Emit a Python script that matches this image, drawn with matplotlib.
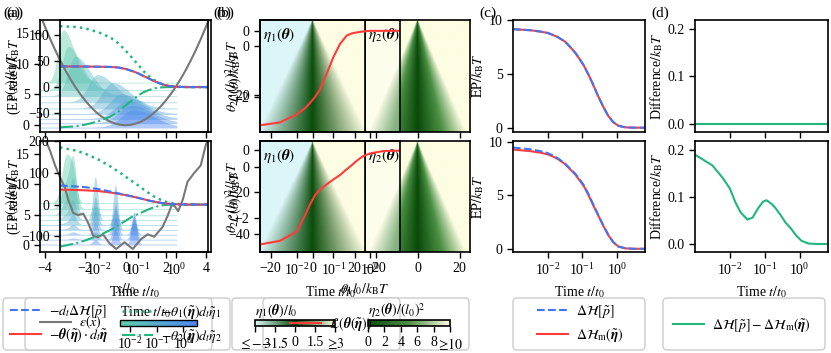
import numpy as np
import matplotlib
matplotlib.use("Agg")
import matplotlib.pyplot as plt
from matplotlib.colors import LinearSegmentedColormap, LogNorm, Normalize
from matplotlib.cm import ScalarMappable
from matplotlib.patches import FancyBboxPatch, Rectangle
from matplotlib.lines import Line2D
from matplotlib.ticker import NullLocator

plt.rcParams.update({
    "font.family": ["Liberation Serif", "DejaVu Serif"],
    "mathtext.fontset": "stix",
    "font.size": 10,
    "axes.linewidth": 1.2,
    "xtick.major.width": 1.0, "ytick.major.width": 1.0,
    "xtick.major.size": 4, "ytick.major.size": 4,
    "xtick.labelsize": 10, "ytick.labelsize": 10,
    "axes.labelsize": 10,
})

try:
    from matplotlib.mathtext import MathTextParser
    MathTextParser("path").parse(r"$\boldsymbol{\theta}$")
    BT, BE = r"\boldsymbol{\theta}", r"\boldsymbol{\eta}"
except Exception:
    BT, BE = r"\theta", r"\eta"

# ---------------- data ----------------
# panel (a): EP-rate curves, log10(t/t0)
a_logt = [-3.0, -2.6, -2.36, -2.0, -1.7, -1.5, -1.3, -1.1, -0.98, -0.85, -0.72, -0.6, -0.47, -0.35, -0.22, -0.1, 0.04, 0.3, 0.81]
rate_red_top = [40, 40, 39.8, 39.5, 39.0, 38, 35, 30, 26.5, 21.5, 17, 12.5, 8.4, 5, 2.5, 1.2, 0.5, 0.1, 0]
rate_blue_top = rate_red_top
rate_dot_top = [118, 116.5, 114, 106, 96, 85, 70, 53, 43, 31, 22, 15, 9, 5.4, 2.5, 1.2, 0.5, 0.1, 0]
rate_dd_top = [-78, -76, -73, -66, -57, -48, -35, -23, -16, -10, -6, -3, -1, -0.4, 0, 0, 0, 0, 0]
rate_red_bot = [47, 46, 45, 42.5, 38, 34, 29.5, 24.5, 21, 17, 13, 10, 7, 4.5, 3, 1.8, 0.8, 0.1, 0]
rate_blue_bot = [60, 57, 55, 48.5, 41, 35.5, 30, 24.8, 21, 17, 13, 10, 7, 4.5, 3, 1.8, 0.8, 0.1, 0]
rate_dot_bot = [180, 170, 161, 141, 120, 104, 87, 70, 60, 48, 37, 27, 19, 12, 7, 4, 2, 0.3, 0]
rate_dd_bot = [-132, -122, -113, -97, -80, -65, -50, -35, -29, -22, -15, -9, -5, -2, -0.8, -0.3, 0, 0, 0]

# panel (a): potentials
eps_x_top = [-4.25, -4.0, -3.75, -3.5, -3.25, -3.0, -2.75, -2.5, -2.25, -2.0, -1.75, -1.5, -1.25, -1.0, -0.75, -0.5, -0.25,
             0.0, 0.25, 0.5, 0.75, 1.0, 1.25, 1.5, 1.75, 2.0, 2.25, 2.5, 2.75, 3.0, 3.25, 3.5, 3.75, 4.0, 4.25]
eps_top = [18.06, 16.0, 14.06, 12.25, 10.56, 9.0, 7.56, 6.25, 5.06, 4.0, 3.06, 2.25, 1.56, 1.0, 0.56, 0.25, 0.06,
           0.0, 0.06, 0.25, 0.56, 1.0, 1.56, 2.25, 3.06, 4.0, 5.06, 6.25, 7.56, 9.0, 10.56, 12.25, 14.06, 16.0, 18.06]
eps_x_bot = [-4.2, -4.0, -3.75, -3.5, -3.26, -3.0, -2.85, -2.6, -2.35, -2.1, -1.86, -1.6, -1.37, -1.12, -0.79, -0.46,
             -0.05, 0.36, 0.77, 1.1, 1.43, 1.84, 2.09, 2.3, 2.45, 2.62, 2.85, 3.08, 3.4, 3.74, 3.98, 4.2]
eps_bot = [19.0, 17.5, 15.5, 13.1, 11.2, 9.35, 7.5, 5.3, 4.95, 5.2, 3.7, 1.56, 1.3, 1.8, 0.3, -0.6,
           0.5, -0.6, 1.0, 1.8, 1.4, 3.0, 4.8, 6.6, 6.4, 5.6, 7.5, 10.4, 11.8, 13.1, 16.3, 18.5]

# panel (a): distributions (ridges)
ridge_xmin, ridge_xmax = -4.3, 2.55
top_mu = [-3.1, -2.85, -2.5, -1.4, -0.65, -0.2, 0.1, 0.3, 0.4]
top_sl = [0.25, 0.3, 0.35, 0.45, 0.5, 0.55, 0.6, 0.6, 0.6]
top_sr = [0.55, 0.65, 0.75, 0.85, 0.9, 0.95, 1.0, 1.0, 1.0]
top_h = [8.5, 7.0, 6.4, 4.4, 4.1, 3.2, 2.9, 2.8, 2.8]
top_base = [7.0, 5.8, 4.8, 3.8, 2.8, 1.9, 1.1, 0.4, -0.3]
bot_centers = [-2.95, -2.6, -1.5, -0.5, 0.42]
bot_sig = [0.22, 0.16, 0.12, 0.12, 0.12]
bot_w = [[7.5, 4.0, 0, 0, 0],
         [4.0, 7.5, 0.3, 0, 0],
         [2.0, 5.5, 1.5, 0, 0],
         [0.8, 3.0, 7.0, 0.3, 0],
         [0.3, 1.5, 4.5, 2.5, 0.2],
         [0.1, 0.8, 3.0, 7.3, 0.8],
         [0, 0.4, 2.0, 5.0, 2.5],
         [0, 0.2, 1.2, 3.5, 4.5],
         [0, 0.1, 0.8, 2.5, 4.6]]
bot_base = [7.0, 6.0, 5.0, 4.2, 3.4, 2.6, 1.8, 1.0, 0.2]

# panel (b): loss curves
b_logt = [-3.0, -2.46, -2.0, -1.77, -1.64, -1.5, -1.37, -1.18, -1.0, -0.82, -0.64, -0.5, -0.37, -0.2, 0.0, 0.36, 0.81]
loss_top = [-29.6, -28.7, -26.2, -24.2, -22.6, -20.7, -18.5, -13.3, -8.2, -4.1, -1.5, -0.8, -0.5, -0.2, 0, 0, 0]
loss_bot = [-45, -43.3, -38.9, -31, -26, -21.5, -19, -16.3, -14, -11.9, -9.2, -7.2, -5.2, -3.0, -1.6, -0.5, -0.3]
# panel (b): heat-map geometry (theta1, theta2 ranges and triangle half-widths)
th1_lim = (-25, 25)
th2_lim = (-3.35, 1.0)
eta1_halfwidth = 26.0
eta2_halfwidth = 23.5

# panels (c), (d)
cd_logt = [-3.0, -2.5, -2.2, -2.0, -1.85, -1.7, -1.5, -1.35, -1.2, -1.05, -0.95, -0.8, -0.7, -0.55, -0.4, -0.25, -0.1, 0.05, 0.25, 0.5, 0.81]
ep_top = [9.15, 9.05, 8.92, 8.8, 8.62, 8.4, 8.0, 7.5, 6.95, 6.25, 5.75, 4.8, 4.1, 3.0, 2.0, 1.1, 0.5, 0.17, 0.03, 0.0, 0.0]
ep_m_bot = [9.3, 9.15, 9.0, 8.85, 8.65, 8.4, 7.95, 7.45, 6.95, 6.3, 5.85, 4.9, 4.2, 3.2, 2.2, 1.3, 0.6, 0.2, 0.04, 0.0, 0.0]
ep_p_bot = [9.49, 9.32, 9.14, 8.97, 8.74, 8.47, 8.0, 7.51, 7.03, 6.39, 5.94, 4.99, 4.28, 3.26, 2.25, 1.33, 0.62, 0.21, 0.04, 0.0, 0.0]
diff_top = [0.0] * 21
diff_bot = [0.19, 0.167, 0.14, 0.118, 0.09, 0.068, 0.052, 0.056, 0.075, 0.09, 0.093, 0.085, 0.077, 0.062, 0.045, 0.033, 0.018, 0.007, 0.001, 0.0, 0.0]

# ---------------- style ----------------
BLUE = "#3f75f2"
RED = "#ff3b3b"
GREEN = "#22b67f"
GRAY = "#777777"
cmap_time = LinearSegmentedColormap.from_list("time", ["#5fcfa8", "#4c86f2"])
cm1 = LinearSegmentedColormap.from_list("eta1", [(0, "#dcf6f8"), (0.5, "#0a4d0a"), (1, "#fdfde3")])
cm2 = LinearSegmentedColormap.from_list("eta2", [(0, "#0a4a0a"), (0.5, "#4a8f44"), (1, "#fdfde2")])

W, H = 831, 353
fig = plt.figure(figsize=(W / 100, H / 100), dpi=100)


def add_ax(x0, x1, y0, y1, **kw):
    return fig.add_axes([x0 / W, 1 - y1 / H, (x1 - x0) / W, (y1 - y0) / H], **kw)


def logaxis(ax):
    ax.set_xscale("log")
    ax.set_xlim(1e-3, 6.5)
    ax.xaxis.set_minor_locator(NullLocator())
    ax.set_xticks([1e-2, 1e-1, 1e0])


def ylabel_at(ax, text, x_px, ax_x0, ax_x1):
    ax.set_ylabel(text)
    ax.yaxis.set_label_coords((x_px - ax_x0) / (ax_x1 - ax_x0), 0.5)


rows = [(20, 132), (141, 252)]
KBT = r"/k_\mathrm{B}T"
eta_t = r"\tilde{" + BE + "}"
L_dH = r"$-d_t\Delta\mathcal{H}[\tilde{p}]$"
L_th = "$-" + BT + "(" + eta_t + r")\cdot d_t" + eta_t + "$"
L_th1 = r"$-\theta_1(" + eta_t + r")d_t\tilde{\eta}_1$"
L_th2 = r"$-\theta_2(" + eta_t + r")d_t\tilde{\eta}_2$"
L_eps = r"$\epsilon(x)$"
L_loss = r"$\mathcal{L}(" + BT + "(" + eta_t + "))$"
L_Hp = r"$\Delta\mathcal{H}[\tilde{p}]$"
L_Hm = r"$\Delta\mathcal{H}_\mathrm{m}(" + eta_t + ")$"
L_diff = r"$\Delta\mathcal{H}[\tilde{p}] - \Delta\mathcal{H}_\mathrm{m}(" + eta_t + ")$"

ta = 10.0 ** np.array(a_logt)
tb = 10.0 ** np.array(b_logt)
tcd = 10.0 ** np.array(cd_logt)
rx = np.linspace(ridge_xmin, ridge_xmax, 600)

for r, (y0, y1) in enumerate(rows):
    bottom = r == 1
    # ---- panel (a): potential + distributions
    ae = add_ax(40, 211, y0, y1)
    ae.set_xlim(-4.25, 4.25)
    ae.set_ylim(-1.1, 17.1)
    ae.set_yticks([0, 5, 10, 15])
    ae.set_xticks([-4, -2, 0, 2, 4])
    for k in range(9):
        if not bottom:
            mu, sl, sr = top_mu[k], top_sl[k], top_sr[k]
            p = top_h[k] * np.where(rx < mu, np.exp(-0.5 * ((rx - mu) / sl) ** 2),
                                    np.exp(-0.5 * ((rx - mu) / sr) ** 2))
            base = top_base[k]
        else:
            p = np.zeros_like(rx)
            for j, c in enumerate(bot_centers):
                p = p + bot_w[k][j] * np.exp(-0.5 * ((rx - c) / bot_sig[j]) ** 2)
            base = bot_base[k]
        ae.fill_between(rx, base - 0.15, base + p, color=cmap_time(k / 8), alpha=0.42, lw=0)
    if not bottom:
        ae.plot(eps_x_top, eps_top, color=GRAY, lw=1.5)
    else:
        ae.plot(eps_x_bot, eps_bot, color=GRAY, lw=1.5)
    ylabel_at(ae, r"$\epsilon(x)" + KBT + "$", 21, 40, 211)
    if bottom:
        ae.set_xlabel(r"$x/l_0$")
    else:
        ae.tick_params(labelbottom=False)

    at = add_ax(60, 208, y0, y1)
    at.set_facecolor("none")
    logaxis(at)
    if not bottom:
        at.set_ylim(-87, 130)
        at.set_yticks([-50, 0, 50, 100])
        rb, rr, rd, rdd = rate_blue_top, rate_red_top, rate_dot_top, rate_dd_top
    else:
        at.set_ylim(-149, 198)
        at.set_yticks([-100, 0, 100, 200])
        rb, rr, rd, rdd = rate_blue_bot, rate_red_bot, rate_dot_bot, rate_dd_bot
    at.plot(ta, rd, color=GREEN, ls=":", lw=1.8)
    at.plot(ta, rdd, color=GREEN, ls="-.", lw=1.5)
    at.plot(ta, rr, color=RED, lw=1.5)
    at.plot(ta, rb, color=BLUE, ls="--", lw=1.5)
    ylabel_at(at, r"(EP rate)$" + KBT + "$", 23, 60, 208)
    if bottom:
        at.set_xlabel(r"Time $t/t_0$")
    else:
        at.tick_params(labelbottom=False)

    # ---- panel (b): heat maps + loss
    X, Y = np.meshgrid(np.linspace(th1_lim[0], th1_lim[1], 301), np.linspace(th2_lim[0], th2_lim[1], 221))
    frac = (th2_lim[1] - Y) / (th2_lim[1] - th2_lim[0]) + 1e-4
    F1 = np.clip(3 * X / (eta1_halfwidth * frac), -3.2, 3.2)
    F2 = np.clip(10 * np.abs(X) / (eta2_halfwidth * frac), 0, 10.5)
    ext = [th1_lim[0], th1_lim[1], th2_lim[0], th2_lim[1]]

    a2 = add_ax(365, 470, y0, y1)
    a2.imshow(F2, extent=ext, origin="lower", aspect="auto", cmap=cm2, vmin=0, vmax=10, interpolation="bilinear")
    a2.add_patch(Rectangle((0, 0), 0.333, 1, transform=a2.transAxes, fc="white", alpha=0.35, lw=0))
    a2.set_xlim(*th1_lim)
    a2.set_ylim(*th2_lim)
    a2.set_xticks([-20, 0, 20])
    a2.set_yticks([-2, 0])
    a2.tick_params(labelleft=False)
    a2.text(0.03, 0.95, r"$\eta_2(" + BT + ")$", transform=a2.transAxes, va="top", ha="left", fontsize=11)
    if not bottom:
        a2.tick_params(labelbottom=False)

    a1 = add_ax(260, 365, y0, y1)
    a1.imshow(F1, extent=ext, origin="lower", aspect="auto", cmap=cm1, vmin=-3, vmax=3, interpolation="bilinear")
    a1.set_xlim(*th1_lim)
    a1.set_ylim(*th2_lim)
    a1.set_xticks([-20, 0, 20])
    a1.set_yticks([-2, 0])
    a1.text(0.03, 0.95, r"$\eta_1(" + BT + ")$", transform=a1.transAxes, va="top", ha="left", fontsize=11)
    ylabel_at(a1, r"$\theta_2\cdot(l_0)^2" + KBT + "$", 242, 260, 365)
    if bottom:
        a1.set_xlabel(r"$\theta_1 l_0" + KBT + "$")
        a1.xaxis.label.set_x(1.0)
    else:
        a1.tick_params(labelbottom=False)

    ab = add_ax(260, 400, y0, y1)
    ab.set_facecolor("none")
    logaxis(ab)
    if not bottom:
        ab.set_ylim(-31.7, 3.4)
        ab.set_yticks([-20, 0])
        ab.plot(tb, loss_top, color=RED, lw=1.5)
    else:
        ab.set_ylim(-48.6, 4.3)
        ab.set_yticks([-40, -20, 0])
        ab.plot(tb, loss_bot, color=RED, lw=1.5)
    ylabel_at(ab, r"$\mathcal{L}(\theta)" + KBT + "$", 244, 260, 400)
    if bottom:
        ab.set_xlabel(r"Time $t/t_0$")
    else:
        ab.tick_params(labelbottom=False)

    # ---- panel (c)
    ac = add_ax(513, 645, y0, y1)
    logaxis(ac)
    if not bottom:
        ac.set_ylim(-0.4, 10)
        ac.plot(tcd, ep_top, color=RED, lw=1.5)
        ac.plot(tcd, ep_top, color=BLUE, ls="--", lw=1.5)
    else:
        ac.set_ylim(-0.3, 10.1)
        ac.plot(tcd, ep_m_bot, color=RED, lw=1.5)
        ac.plot(tcd, ep_p_bot, color=BLUE, ls="--", lw=1.5)
    ac.set_yticks([0, 5, 10])
    ac.set_ylabel(r"$\mathrm{EP}" + KBT + "$", labelpad=2)
    if bottom:
        ac.set_xlabel(r"Time $t/t_0$")
    else:
        ac.tick_params(labelbottom=False)

    # ---- panel (d)
    ad = add_ax(695, 828, y0, y1)
    logaxis(ad)
    ad.set_ylim(-0.017, 0.219)
    ad.plot(tcd, diff_top if not bottom else diff_bot, color=GREEN, lw=1.5)
    ad.set_yticks([0.0, 0.1, 0.2])
    ad.set_yticklabels(["0.0", "0.1", "0.2"])
    ad.set_ylabel(r"Difference$" + KBT + "$", labelpad=2)
    if bottom:
        ad.set_xlabel(r"Time $t/t_0$")
    else:
        ad.tick_params(labelbottom=False)

# ---------------- panel labels ----------------
for (x, s) in [(3, "(a)"), (6, "(a)"), (213, "(b)"), (216, "(b)"), (479, "(c)"), (651, "(d)")]:
    fig.text(x / W, 1 - 13 / H, s, fontsize=11, va="center", ha="left")

# ---------------- legend boxes ----------------
def lbox(x0, x1, y0, y1):
    p = FancyBboxPatch((x0 / 100, (H - y1) / 100), (x1 - x0) / 100, (y1 - y0) / 100,
                       boxstyle="round,pad=0,rounding_size=0.04", transform=fig.dpi_scale_trans,
                       fc="white", ec="#cccccc", lw=1.0, zorder=-1)
    fig.add_artist(p)

lbox(3, 230, 298, 350)
lbox(25, 212, 298, 350)
lbox(232, 469, 298, 350)
lbox(263, 400, 298, 350)
lbox(513, 645, 298, 350)
lbox(663, 825, 298, 350)


def fpos(x, y):
    return (x / W, 1 - y / H)

legkw = dict(frameon=False, borderpad=0, borderaxespad=0, handletextpad=0.6, labelspacing=0.45, fontsize=10)
fig.legend([Line2D([], [], color=BLUE, ls="--", lw=1.5), Line2D([], [], color=RED, lw=1.5)], [L_dH, L_th],
           loc="upper left", bbox_to_anchor=fpos(10, 303), handlelength=2.2, **legkw)
fig.legend([Line2D([], [], color=GRAY, lw=1.5)], [L_eps],
           loc="upper left", bbox_to_anchor=fpos(40, 314), handlelength=2.2, **legkw)
fig.legend([Line2D([], [], color=GREEN, ls=":", lw=1.8), Line2D([], [], color=GREEN, ls="-.", lw=1.5)], [L_th1, L_th2],
           loc="upper left", bbox_to_anchor=fpos(122, 303), handlelength=2.2, **legkw)

cax_t = add_ax(120, 197, 320, 326)
cb = fig.colorbar(ScalarMappable(norm=LogNorm(10 ** -2.38, 10 ** 0.53), cmap=cmap_time), cax=cax_t, orientation="horizontal")
cb.set_ticks([1e-2, 1e-1, 1e0])
cax_t.xaxis.set_minor_locator(NullLocator())
cax_t.set_title(r"Time $t/t_0$", loc="left", fontsize=10, pad=2)
cb.outline.set_linewidth(1.0)

cax1 = add_ax(255, 335, 320, 326)
cb1 = fig.colorbar(ScalarMappable(norm=Normalize(-3, 3), cmap=cm1), cax=cax1, orientation="horizontal")
cb1.set_ticks([-3, -1.5, 0, 1.5, 3])
cb1.set_ticklabels([r"$\leq\!-3$", r"$-1.5$", "0", "1.5", r"$\geq\!3$"])
cax1.set_title(r"$\eta_1(" + BT + ")/l_0$", loc="left", fontsize=10, pad=2)
cax2 = add_ax(368, 450, 320, 326)
cb2 = fig.colorbar(ScalarMappable(norm=Normalize(0, 10), cmap=cm2), cax=cax2, orientation="horizontal")
cb2.set_ticks([0, 2, 4, 6, 8, 10])
cb2.set_ticklabels(["0", "2", "4", "6", "8", r"$\geq\!10$"])
cax2.set_title(r"$\eta_2(" + BT + ")/(l_0)^2$", loc="left", fontsize=10, pad=2)
fig.legend([Line2D([], [], color=RED, lw=1.5)], [L_loss], loc="upper left", bbox_to_anchor=fpos(290, 315),
           handlelength=2.2, **legkw)

fig.legend([Line2D([], [], color=BLUE, ls="--", lw=1.5), Line2D([], [], color=RED, lw=1.5)], [L_Hp, L_Hm],
           loc="upper left", bbox_to_anchor=fpos(537, 303), handlelength=2.2, **legkw)
fig.legend([Line2D([], [], color=GREEN, lw=1.5)], [L_diff], loc="center left", bbox_to_anchor=fpos(673, 325),
           handlelength=2.2, **legkw)

fig.savefig("out.png", dpi=100)
